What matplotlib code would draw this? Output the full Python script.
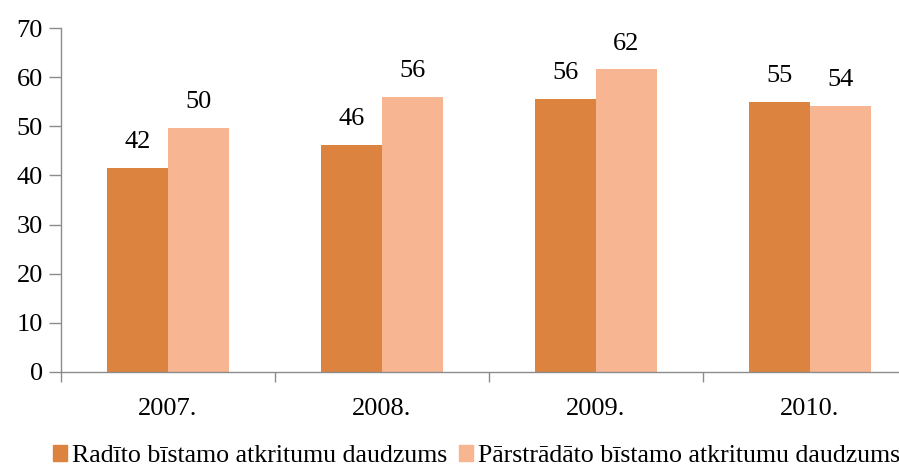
import numpy as np
import matplotlib.pyplot as plt
from matplotlib.patches import Patch

years = ["2007.", "2008.", "2009.", "2010."]
generated = [41.6, 46.2, 55.6, 54.9]
processed = [49.7, 56.0, 61.6, 54.2]
series_names = ["Radīto bīstamo atkritumu daudzums",
                "Pārstrādāto bīstamo atkritumu daudzums"]
colors = ["#DB833F", "#F8B591"]
axis_grey = '#8C8C8C'
fs = 19

plt.rcParams['font.family'] = ['Liberation Serif', 'DejaVu Serif']

fig = plt.figure(figsize=(8.99, 4.66), dpi=100)
ax = fig.add_axes([61 / 899, 94 / 466, 856 / 899, 344 / 466])

ind = np.arange(len(years)) + 0.5
width = 0.285

ax.bar(ind - width / 2, generated, width, color=colors[0])
ax.bar(ind + width / 2, processed, width, color=colors[1])

for x, v in zip(ind - width / 2, generated):
    ax.text(x, v + 3.0, "%.0f" % v, ha='center', va='bottom', fontsize=fs)
for x, v in zip(ind + width / 2, processed):
    ax.text(x, v + 3.0, "%.0f" % v, ha='center', va='bottom', fontsize=fs)

ax.set_xlim(0, len(years))
ax.set_ylim(0, 70)
ax.set_yticks(range(0, 71, 10))
ax.tick_params(axis='y', length=9, width=1, color=axis_grey, pad=4, labelsize=fs)

# group boundaries carry the ticks, year labels sit between them
ax.set_xticks(np.arange(len(years) + 1))
ax.set_xticklabels([])
ax.set_xticks(ind, minor=True)
ax.set_xticklabels(years, minor=True, fontsize=fs)
ax.tick_params(axis='x', which='major', length=7, width=1, color=axis_grey)
ax.tick_params(axis='x', which='minor', length=0, pad=19)

for side in ['top', 'right']:
    ax.spines[side].set_visible(False)
for side in ['left', 'bottom']:
    ax.spines[side].set_color(axis_grey)
    ax.spines[side].set_linewidth(1)

handles = [Patch(color=c) for c in colors]
fig.legend(handles, series_names, loc='upper left',
           bbox_to_anchor=(53 / 899, 21 / 466), frameon=False, ncol=2,
           fontsize=18.6, handlelength=0.54, handleheight=0.54,
           handletextpad=0.19, columnspacing=0.45, borderpad=0,
           borderaxespad=0)

fig.savefig("out.png", dpi=100)
